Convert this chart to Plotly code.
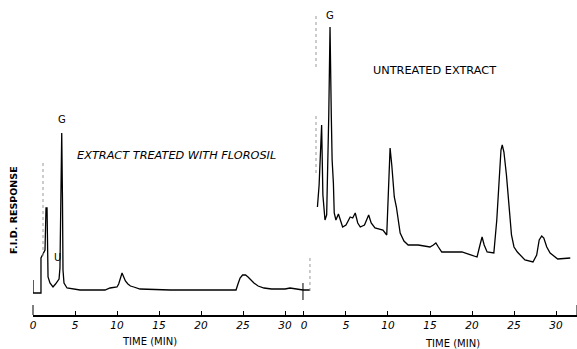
import plotly.graph_objects as go

# ---- data: retention time (min) and detector response (arbitrary units) ----
# Run 1: extract treated with Florosil
treated_time = [0, 0, 0.95, 0.95, 1.43, 1.55, 1.67, 1.73, 1.79, 2.02, 2.38, 2.68, 2.86,
                3.1, 3.21, 3.33, 3.42, 3.51, 3.57, 3.69, 4.05, 5.6, 8.57, 9.17, 10.0,
                10.2, 10.4, 10.6, 10.8, 11.0, 11.3, 11.6, 12.0, 12.74, 16.31, 19.88,
                24.17, 24.4, 24.65, 24.95, 25.3, 25.6, 25.9, 26.3, 26.8, 27.5, 28.4,
                29.3, 30.0, 30.6, 31.31, 32.14, 32.98]
treated_resp = [35, 22, 22, 57, 65, 107, 107, 55, 38, 32, 28, 31, 33,
                36, 47, 115, 182, 115, 45, 32, 27, 25, 25, 27, 28,
                31, 38, 42, 38, 34, 31, 29, 28, 26, 25, 25,
                25, 31, 37, 40, 40, 38, 35, 32, 29, 27, 26,
                26, 26, 27, 26, 25, 25]
# faint pen excursion (off-scale solvent) in run 1
treated_pen_time = [1.19, 1.19]
treated_pen_resp = [59, 153]

# Run 2: untreated extract
untreated_time = [1.6, 1.8, 2.1, 2.25, 2.5, 2.7, 2.95, 3.1, 3.25, 3.35, 3.5, 3.6, 3.8,
                  4.1, 4.6, 5.0, 5.5, 5.8, 6.1, 6.4, 6.7, 7.2, 7.7, 8.0, 8.45, 9.4,
                  9.85, 10.05, 10.25, 10.45, 10.75, 11.0, 11.2, 11.45, 11.9, 12.4,
                  13.6, 15.0, 15.4, 15.7, 16.0, 16.4, 18.8, 20.6, 20.95, 21.2, 21.45,
                  21.8, 22.6, 22.95, 23.2, 23.45, 23.6, 23.8, 24.1, 24.4, 24.7, 25.0,
                  25.4, 26.3, 27.26, 27.7, 28.0, 28.3, 28.55, 28.9, 29.3, 30.2, 31.7]
untreated_resp = [108, 130, 190, 120, 95, 100, 200, 288, 200, 155, 132, 102, 95,
                  101, 88, 90, 98, 97, 102, 92, 88, 90, 100, 92, 87, 85,
                  80, 130, 167, 150, 118, 108, 95, 82, 74, 70,
                  70, 68, 70, 72, 68, 63, 63, 58, 70, 78, 70,
                  63, 62, 95, 130, 165, 170, 163, 140, 105, 80, 68,
                  63, 55, 53, 60, 75, 79, 77, 68, 62, 56, 57]
# faint pen excursions in run 2 (injection and off-scale solvent)
untreated_pen_segments = [
    ([0.71, 0.71], [24, 57]),
    ([1.43, 1.43], [248, 300]),
    ([1.43, 1.43], [142, 202]),
]
# run-1 end / run-2 start marker
marker_time = [32.14, 32.14]
marker_resp = [15, 32]

tick_minutes = [0, 5, 10, 15, 20, 25, 30]
tick_labels = ["0", "5", "10", "15", "20", "25", "30"]

# ---- layout constants ----
RUN2_OFFSET = 32.26     # where run 2's zero sits on the shared recorder axis
X_END = 64.76

fig = go.Figure()
fig.add_trace(go.Scatter(x=treated_time, y=treated_resp, mode="lines",
                         line=dict(color="black", width=1.3)))
fig.add_trace(go.Scatter(x=treated_pen_time, y=treated_pen_resp, mode="lines",
                         line=dict(color="#999", width=1, dash="dot")))
fig.add_trace(go.Scatter(x=marker_time, y=marker_resp, mode="lines",
                         line=dict(color="black", width=1)))
fig.add_trace(go.Scatter(x=[t + RUN2_OFFSET for t in untreated_time], y=untreated_resp,
                         mode="lines", line=dict(color="black", width=1.3)))
for ts, rs in untreated_pen_segments:
    fig.add_trace(go.Scatter(x=[t + RUN2_OFFSET for t in ts], y=rs, mode="lines",
                             line=dict(color="#999", width=1, dash="dot")))

tickvals = tick_minutes + [t + RUN2_OFFSET for t in tick_minutes]
ticktext = tick_labels + tick_labels

fig.update_layout(
    template="none",
    width=577, height=349,
    margin=dict(l=33, r=0, t=0, b=34, pad=0),
    paper_bgcolor="white", plot_bgcolor="white",
    showlegend=False,
    hovermode=False,
    xaxis=dict(range=[0, X_END], tickvals=tickvals, ticktext=ticktext,
               ticks="inside", ticklen=4, tickcolor="black", tickwidth=1,
               showline=True, linecolor="black", linewidth=1.5,
               showgrid=False, zeroline=False, automargin=False,
               tickfont=dict(family="DejaVu Sans", size=10.5, color="black", style="italic")),
    yaxis=dict(range=[0, 315], visible=False, automargin=False),
)

# tall end ticks of the recorder axis
for xp in [0, 1]:
    fig.add_shape(type="line", xref="paper", yref="paper", x0=xp, x1=xp,
                  y0=0, y1=10 / 315, line=dict(color="black", width=1))

txt = dict(family="DejaVu Sans", color="black")
fig.add_annotation(x=3.42, y=182, text="G", showarrow=False, yanchor="bottom", yshift=6,
                   font=dict(size=10, **txt))
fig.add_annotation(x=3.1 + RUN2_OFFSET, y=288, text="G", showarrow=False,
                   yanchor="bottom", yshift=4, font=dict(size=10, **txt))
fig.add_annotation(x=2.86, y=33, text="U", showarrow=False, yanchor="bottom", yshift=17,
                   font=dict(size=10, **txt))
fig.add_annotation(x=5.0, y=160, text="EXTRACT TREATED WITH FLOROSIL", showarrow=False,
                   xanchor="left", yanchor="middle", font=dict(size=11.3, style="italic", **txt))
fig.add_annotation(x=8.0 + RUN2_OFFSET, y=245, text="UNTREATED EXTRACT", showarrow=False,
                   xanchor="left", yanchor="middle", font=dict(size=11.3, **txt))
fig.add_annotation(x=13.9, y=-0.083, yref="paper", text="TIME (MIN)", showarrow=False,
                   xanchor="center", yanchor="middle", font=dict(size=10, **txt))
fig.add_annotation(x=17.7 + RUN2_OFFSET, y=-0.09, yref="paper", text="TIME (MIN)",
                   showarrow=False, xanchor="center", yanchor="middle",
                   font=dict(size=10, **txt))
fig.add_annotation(x=-0.037, y=0.333, xref="paper", yref="paper",
                   text="<b>F.I.D. RESPONSE</b>", textangle=-90, showarrow=False,
                   xanchor="center", yanchor="middle", font=dict(size=9.5, **txt))

fig.write_html("out.html", config={"displayModeBar": False, "staticPlot": True},
               post_script="document.body.style.margin='0px';")
